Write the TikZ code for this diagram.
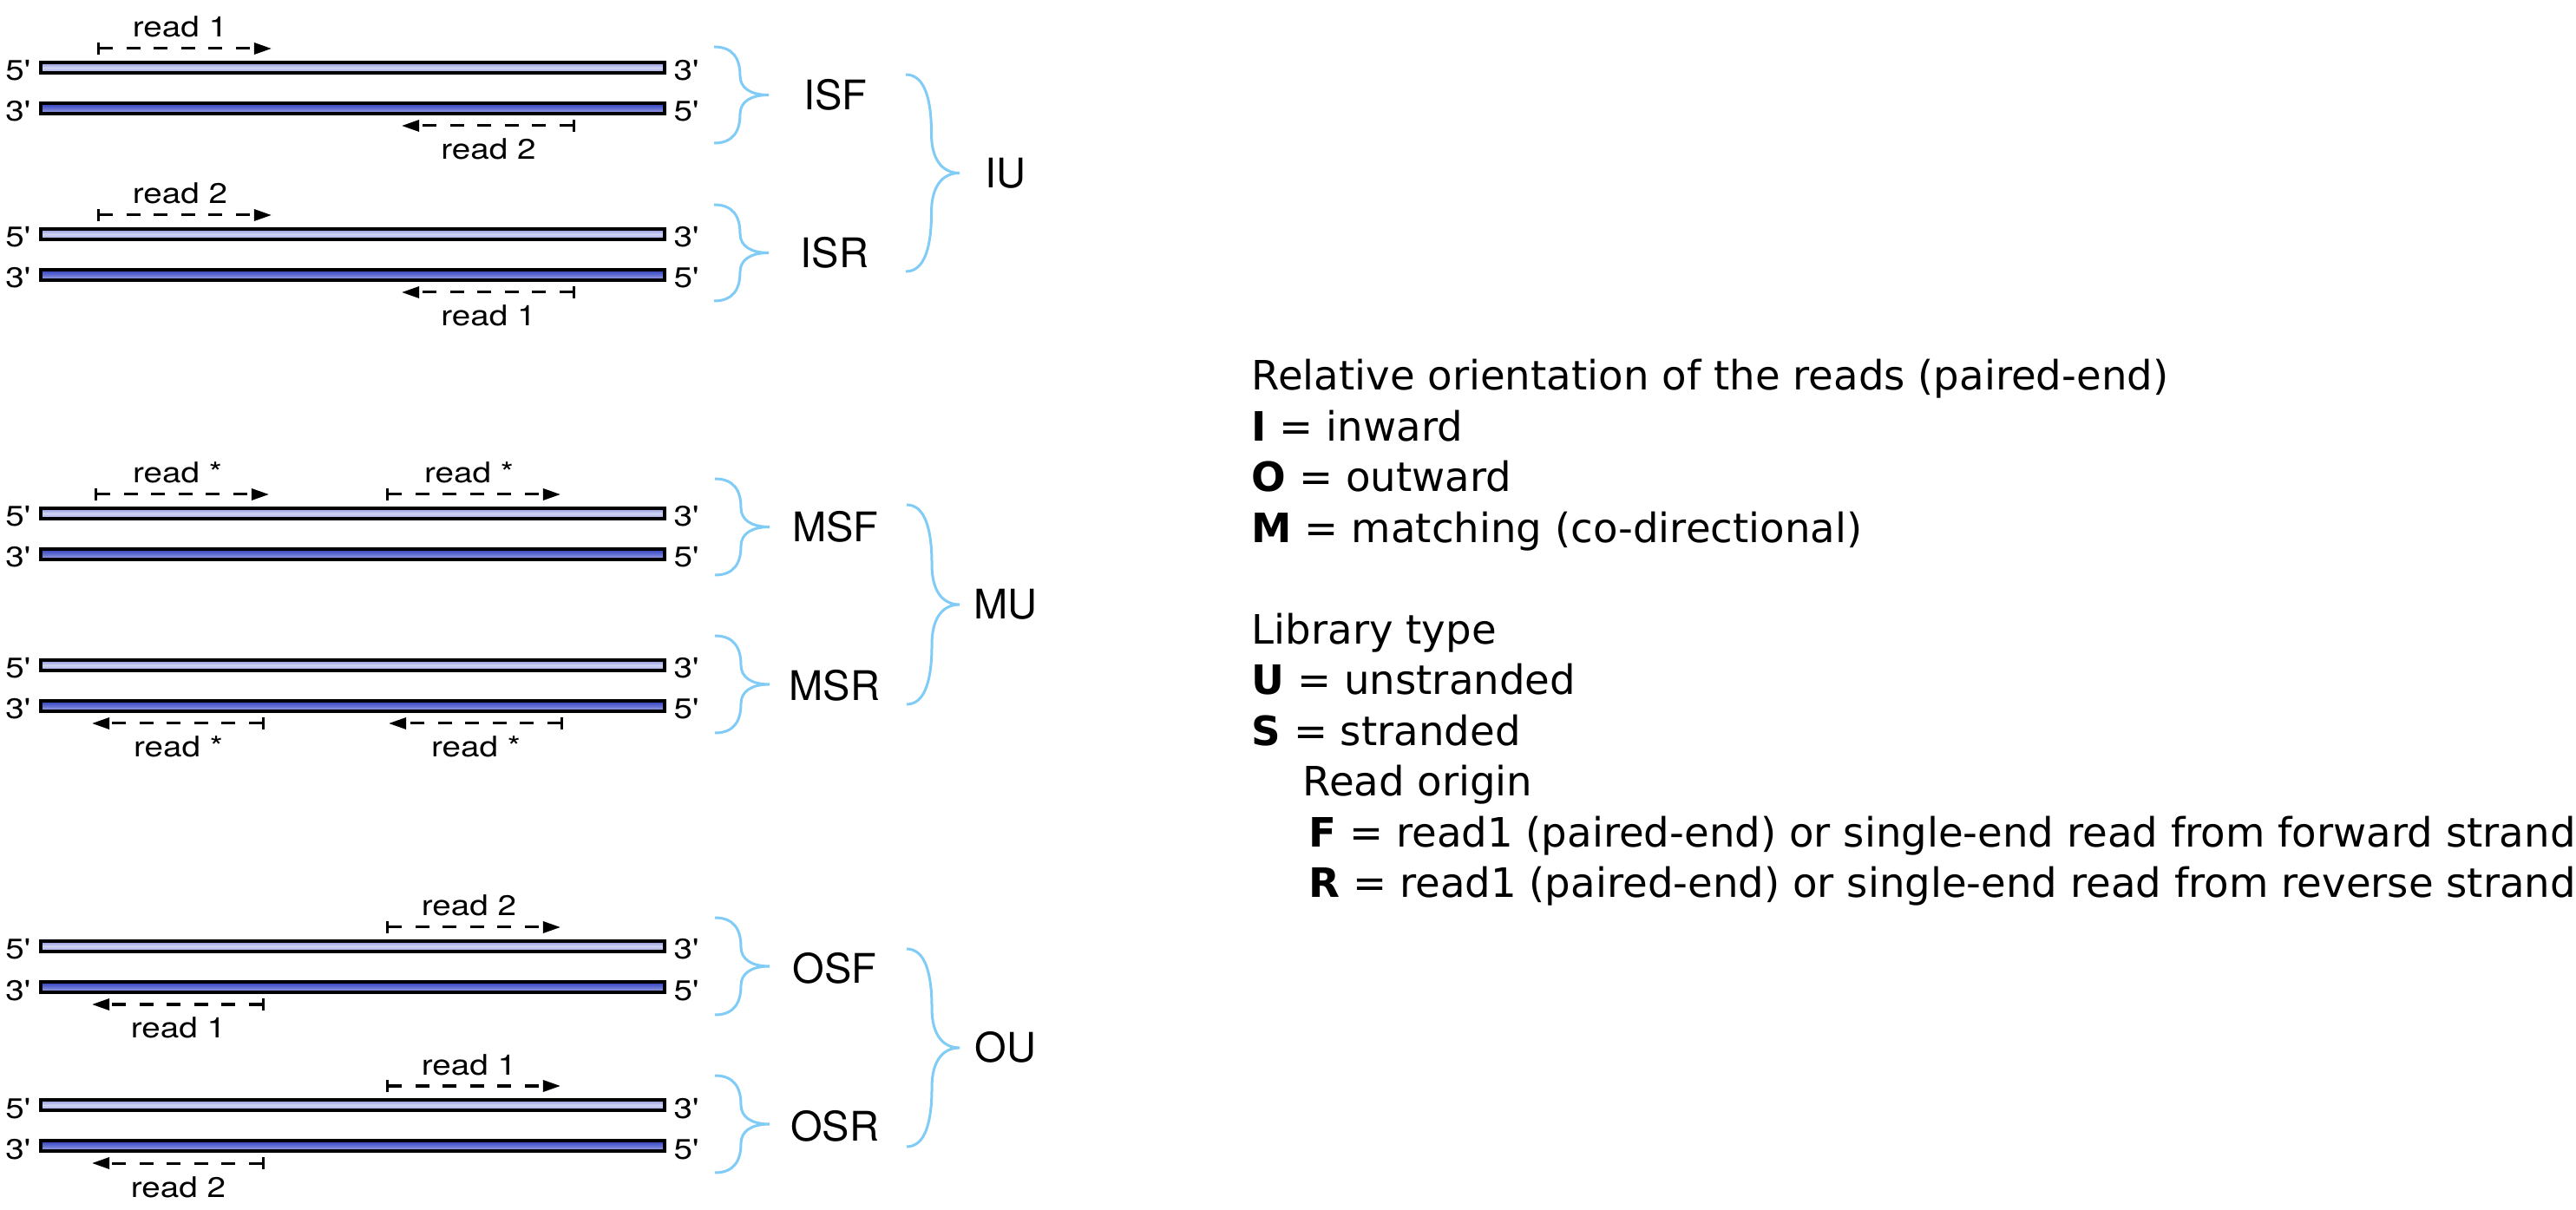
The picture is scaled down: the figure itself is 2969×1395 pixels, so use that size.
\documentclass[tikz,border=0pt]{standalone}
\usepackage{fontspec}
\usepackage{graphicx}
\setmainfont{DejaVu Sans}
\newfontfamily\helv{TeX Gyre Heros}
\usetikzlibrary{arrows.meta}
\definecolor{bracecol}{RGB}{128,204,246}
\definecolor{sAtop}{RGB}{140,148,218}
\definecolor{sAmid}{RGB}{208,212,243}
\definecolor{sAbot}{RGB}{152,159,222}
\definecolor{sBtop}{RGB}{48,62,192}
\definecolor{sBmid}{RGB}{100,112,210}
\definecolor{sBbot}{RGB}{168,174,230}
\newcommand\wide[1]{\scalebox{1.18}[1]{#1}}
\tikzset{
  strandA/.style={draw=black, line width=0.04cm, top color=sAtop, bottom color=sAbot, middle color=sAmid},
  strandB/.style={draw=black, line width=0.04cm, top color=sBtop, bottom color=sBbot, middle color=sBmid},
  endlbl/.style={inner sep=0pt, font=\helv\fontsize{9.3pt}{11pt}\selectfont},
  readlbl/.style={inner sep=0pt, anchor=base, font=\helv\fontsize{9.3pt}{11pt}\selectfont},
  grplbl/.style={inner sep=0pt, font=\helv\fontsize{13.37pt}{16pt}\selectfont},
  leg/.style={inner sep=0pt, anchor=base west, font=\fontsize{13.26pt}{16pt}\selectfont},
  readarrow/.style={line width=0.03cm, dash pattern=on 0.16cm off 0.155cm,
    arrows={Bar[width=0.14cm]-Triangle[length=0.2cm,width=0.13cm]}},
  bracestyle/.style={draw=bracecol, line width=0.03cm},
}
% duplex: #1 centre of upper strand, #2 name prefix
\newcommand\duplex[2]{%
  \draw[strandA] (47,{#1-6}) rectangle (766,{#1+6});
  \draw[strandB] (47,{#1+41}) rectangle (766,{#1+53});
  \node[endlbl, anchor=base east] (#2la) at (36,{#1+15}) {\wide{5\textquotesingle}};
  \node[endlbl, anchor=base west] (#2ra) at (776,{#1+15}) {\wide{3\textquotesingle}};
  \node[endlbl, anchor=base east] (#2lb) at (36,{#1+62}) {\wide{3\textquotesingle}};
  \node[endlbl, anchor=base west] (#2rb) at (776,{#1+62}) {\wide{5\textquotesingle}};
}
% forward read: #1 start x, #2 tip x, #3 strand centre, #4 text, #5 name
\newcommand\fwdread[5]{%
  \draw[readarrow] (#1,{#3-22}) -- (#2,{#3-22});
  \node[readlbl] (#5) at ({(#1+#2)/2-5},{#3-35}) {\wide{#4}};
}
% reverse read: #1 start (tick) x, #2 tip x, #3 strand centre, #4 text, #5 name
\newcommand\revread[5]{%
  \draw[readarrow] (#1,{#3+20}) -- (#2,{#3+20});
  \node[readlbl] (#5) at ({(#1+#2)/2},{#3+59}) {\wide{#4}};
}
% brace: #1 left x, #2 top y, #3 bottom y, #4 tip x
\newcommand\rbrc[4]{%
  \begin{scope}[shift={(#1,{(#2+#3)/2})}, xscale={#4-#1}, yscale={(#3-#2)/2}]
    \draw[bracestyle] (0,-1) .. controls (0.35,-1) and (0.476,-0.75) .. (0.476,-0.4)
      .. controls (0.476,-0.144) and (0.667,0) .. (1,0)
      .. controls (0.667,0) and (0.476,0.144) .. (0.476,0.4)
      .. controls (0.476,0.75) and (0.35,1) .. (0,1);
  \end{scope}}
\begin{document}
\begin{tikzpicture}[x=0.01cm, y=-0.01cm]
\useasboundingbox (0,0) rectangle (2969,1395);
\fill[white] (0,0) rectangle (2969,1395);

% ---- I group
\duplex{78}{isf}
\fwdread{112}{313}{78}{read 1}{isfr1}
\revread{663}{463}{125}{read 2}{isfr2}
\duplex{270}{isr}
\fwdread{112}{313}{270}{read 2}{isrr2}
\revread{663}{463}{317}{read 1}{isrr1}
\rbrc{823}{54}{165}{886}
\rbrc{823}{236}{347}{886}
\rbrc{1044}{86}{313}{1106}
\node[grplbl] (isf) at (963,109) {ISF};
\node[grplbl] (isr) at (962,291) {ISR};
\node[grplbl] (iu) at (1159,200) {IU};

% ---- M group
\duplex{592}{msf}
\fwdread{109}{310}{592}{read *}{msfa}
\fwdread{445}{646}{592}{read *}{msfb}
\duplex{767}{msr}
\revread{305}{106}{814}{read *}{msra}
\revread{649}{448}{814}{read *}{msrb}
\rbrc{824}{552}{663}{887}
\rbrc{824}{733}{845}{887}
\rbrc{1045}{582}{812}{1106}
\node[grplbl] (msf) at (963,607) {MSF};
\node[grplbl] (msr) at (962,790) {MSR};
\node[grplbl] (mu) at (1159,697) {MU};

% ---- O group
\duplex{1091}{osf}
\fwdread{445}{646}{1091}{read 2}{osfr2}
\revread{305}{106}{1138}{read 1}{osfr1}
\duplex{1274}{osr}
\fwdread{445}{646}{1274}{read 1}{osrr1}
\revread{305}{106}{1321}{read 2}{osrr2}
\rbrc{824}{1058}{1170}{887}
\rbrc{824}{1240}{1352}{887}
\rbrc{1045}{1094}{1322}{1106}
\node[grplbl] (osf) at (962,1116) {OSF};
\node[grplbl] (osr) at (962,1298) {OSR};
\node[grplbl] (ou) at (1159,1207) {OU};

% ---- legend
\node[leg] (lg1) at (1442,450) {Relative orientation of the reads (paired-end)};
\node[leg] (lg2) at (1442,508.5) {\textbf{I} = inward};
\node[leg] (lg3) at (1442,567) {\textbf{O} = outward};
\node[leg] (lg4) at (1442,625.5) {\textbf{M} = matching (co-directional)};
\node[leg] (lg5) at (1442,742.5) {Library type};
\node[leg] (lg6) at (1442,801) {\textbf{U} = unstranded};
\node[leg] (lg7) at (1442,859.5) {\textbf{S} = stranded};
\node[leg] (lg8) at (1501,918) {Read origin};
\node[leg] (lg9) at (1508,976.5) {\textbf{F} = read1 (paired-end) or single-end read from forward strand};
\node[leg] (lg10) at (1508,1035) {\textbf{R} = read1 (paired-end) or single-end read from reverse strand};
\end{tikzpicture}
\end{document}
